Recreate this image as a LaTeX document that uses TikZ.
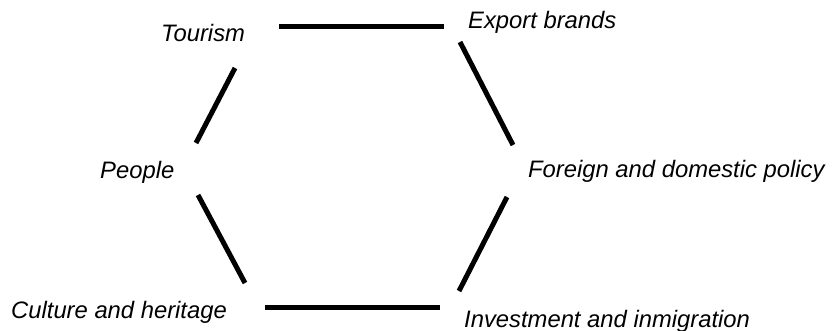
\documentclass[tikz,border=0pt]{standalone}
\usepackage{fontspec}
\setmainfont{Liberation Sans}
\usetikzlibrary{calc}

\tikzset{
  brandlabel/.style={font=\itshape\fontsize{23.8}{28}\selectfont, inner sep=0pt, anchor=base west},
  hexside/.style={line width=5pt, line cap=butt}
}

\begin{document}
\begin{tikzpicture}[x=1pt, y=-1pt]
  \useasboundingbox (0,0) rectangle (832,330);
  % labels round the hexagon
  \node[brandlabel] (tourism) at (161,41) {Tourism};
  \node[brandlabel] (export)  at (468,28) {Export brands};
  \node[brandlabel] (people)  at (100,178) {People};
  \node[brandlabel] (policy)  at (528,177) {Foreign and domestic policy};
  \node[brandlabel] (culture) at (11,318) {Culture and heritage};
  \node[brandlabel] (invest)  at (464,327) {Investment and inmigration};
  % ends of the sides
  \coordinate (topA) at (279,26);
  \coordinate (topB) at (444,26);
  \coordinate (trA) at (460,42);
  \coordinate (trB) at (513,145);
  \coordinate (brA) at (507,197);
  \coordinate (brB) at (459,291);
  \coordinate (botA) at (440,307);
  \coordinate (botB) at (265,307);
  \coordinate (blA) at (245,283);
  \coordinate (blB) at (198,195);
  \coordinate (tlA) at (196,143);
  \coordinate (tlB) at (235,68);
  \foreach \a/\b in {topA/topB, trA/trB, brA/brB, botA/botB, blA/blB, tlA/tlB}
    \draw[hexside] (\a) -- (\b);
\end{tikzpicture}
\end{document}
